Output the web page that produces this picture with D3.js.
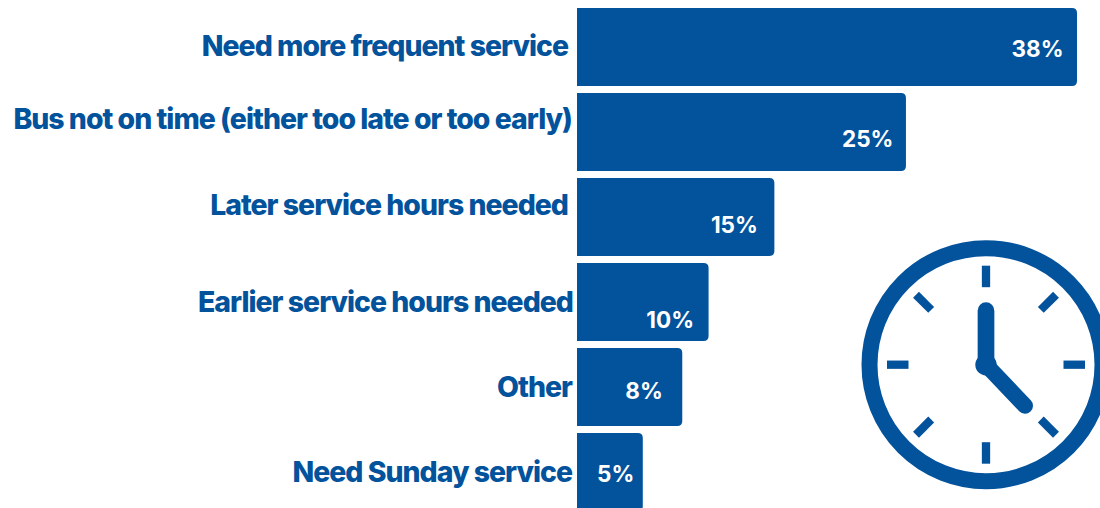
<!DOCTYPE html>
<html><head><meta charset="utf-8"><style>html,body{margin:0;padding:0;background:#fff}svg{display:block}</style>
<script src="https://cdnjs.cloudflare.com/ajax/libs/d3/7.8.5/d3.min.js"></script></head><body><div id="c"></div><script>
const categories=["Need more frequent service","Bus not on time (either too late or too early)","Later service hours needed","Earlier service hours needed","Other","Need Sunday service"];
const values=[38,25,15,10,8,5];
const hourTicks=[0,1.5,3,4.5,6,7.5,9,10.5];
const blue="#03529c";
const W=1100,H=508;
const labelY=[46.5,119.5,205.5,302.5,387.5,472.5], valueY=[49,139,225,320,391,474], labelX=[568,572,568,573,572,572], valueRight=[13.5,12.5,16.5,14.5,19.5,8.5];
const svg=d3.select("#c").append("svg").attr("width",W).attr("height",H);
const x=d3.scaleLinear().domain([0,38]).range([577,1077]);
const y=d3.scaleBand().domain(categories).range([8,511]).paddingInner(7/85).paddingOuter(0);
svg.selectAll("path.bar").data(values).join("path").attr("class","bar").attr("fill",blue)
 .attr("d",(d,i)=>{const x0=x(0),x1=x(d),y0=y(categories[i]),y1=y0+y.bandwidth(),r=5;
   return `M${x0},${y0}H${x1-r}Q${x1},${y0} ${x1},${y0+r}V${y1-r}Q${x1},${y1} ${x1-r},${y1}H${x0}Z`;});
svg.selectAll("text.cat").data(categories).join("text").attr("class","cat").text(d=>d)
 .attr("x",(d,i)=>labelX[i]).attr("y",(d,i)=>labelY[i]).attr("dy","0.35em").attr("text-anchor","end")
 .attr("font-family","Inter, sans-serif").attr("font-weight",800).attr("font-size",28.4).attr("letter-spacing",-0.98).attr("fill",blue);
svg.selectAll("text.val").data(values).join("text").attr("class","val").text(d=>d+"%")
 .attr("x",(d,i)=>x(d)-valueRight[i]).attr("y",(d,i)=>valueY[i]).attr("dy","0.35em").attr("text-anchor","end")
 .attr("font-family","Inter, sans-serif").attr("font-weight",700).attr("font-size",22.5).attr("fill","#fff");
const cx=986,cy=364.7;
const g=svg.append("g").attr("transform",`translate(${cx},${cy})`);
g.append("circle").attr("r",116.5).attr("fill","none").attr("stroke",blue).attr("stroke-width",16);
g.selectAll("line.t").data(hourTicks).join("line").attr("class","t")
 .attr("x1",d=>Math.sin(d*Math.PI/6)*99).attr("y1",d=>-Math.cos(d*Math.PI/6)*99)
 .attr("x2",d=>Math.sin(d*Math.PI/6)*77.5).attr("y2",d=>-Math.cos(d*Math.PI/6)*77.5)
 .attr("stroke",blue).attr("stroke-width",8.3);
g.append("circle").attr("r",10.7).attr("fill",blue);
g.append("line").attr("x1",0).attr("y1",0).attr("x2",0).attr("y2",-54).attr("stroke",blue).attr("stroke-width",16.7).attr("stroke-linecap","round");
g.append("line").attr("x1",0).attr("y1",0).attr("x2",39).attr("y2",41).attr("stroke",blue).attr("stroke-width",16).attr("stroke-linecap","round");
</script></body></html>
